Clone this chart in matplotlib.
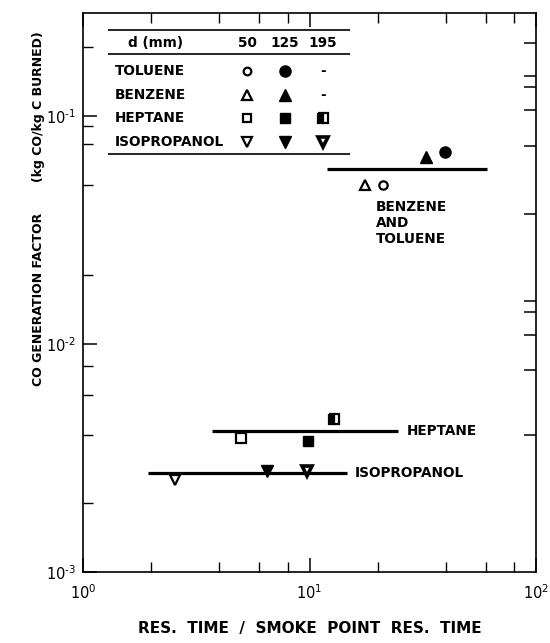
import matplotlib
matplotlib.use("Agg")
import matplotlib.pyplot as plt
from matplotlib.ticker import FixedLocator, FixedFormatter, NullFormatter

plt.rcParams['font.family'] = ['DejaVu Sans']

# Data (x: res. time ratio, y: kg CO / kg C)
d_mm = ["50", "125", "195"]
fuels = ["TOLUENE", "BENZENE", "HEPTANE", "ISOPROPANOL"]

toluene_x = [21.1, 39.6]
toluene_y = [0.050, 0.0695]
benzene_x = [17.6, 32.7]
benzene_y = [0.050, 0.066]
heptane_x = [5.0, 9.85, 12.8]
heptane_y = [0.00387, 0.00376, 0.00469]
isoprop_x = [2.55, 6.5, 9.75]
isoprop_y = [0.00253, 0.00277, 0.00277]

# Mean lines
bt_line_x = [11.9, 60.8]
bt_line_y = [0.0586, 0.0586]
hep_line_x = [3.7, 24.6]
hep_line_y = [0.00415, 0.00415]
iso_line_x = [1.94, 14.6]
iso_line_y = [0.00272, 0.00272]

W, H = 550, 643
fig = plt.figure(figsize=(W / 100, H / 100), dpi=100)
ax = fig.add_axes([83 / W, 1 - 572 / H, (536 - 83) / W, (572 - 13) / H])
ax.set_xscale('log')
ax.set_yscale('log')
ax.set_xlim(1, 100)
ax.set_ylim(1e-3, 0.283)

for s in ax.spines.values():
    s.set_linewidth(1.2)

# ticks
ax.xaxis.set_major_locator(FixedLocator([1, 10, 100]))
ax.xaxis.set_major_formatter(FixedFormatter([r'$\mathregular{10^0}$', r'$\mathregular{10^1}$', r'$\mathregular{10^2}$']))
ax.xaxis.set_minor_locator(FixedLocator([2, 4, 6, 8, 20, 40, 60, 80]))
ax.xaxis.set_minor_formatter(NullFormatter())
ax.yaxis.set_major_locator(FixedLocator([1e-3, 1e-2, 1e-1]))
ax.yaxis.set_major_formatter(FixedFormatter([r'$\mathregular{10^{\text{-}3}}$', r'$\mathregular{10^{\text{-}2}}$',
                                             r'$\mathregular{10^{\text{-}1}}$']))
ax.yaxis.set_minor_locator(FixedLocator([0.002, 0.004, 0.006, 0.008, 0.02, 0.05, 0.075, 0.09, 0.2]))
ax.yaxis.set_minor_formatter(NullFormatter())
ax.tick_params(which='both', direction='in', top=True, right=False, labelsize=10.5)
ax.tick_params(which='major', length=10, width=1.1)
ax.tick_params(which='minor', length=7, width=1.0)
ax.tick_params(axis='x', pad=8)
ax.tick_params(axis='y', pad=5)

# right side ticks are spaced differently on the original
ax2 = ax.twinx()
ax2.set_yscale('log')
ax2.set_ylim(ax.get_ylim())
ax2.yaxis.set_major_locator(FixedLocator([0.004, 0.0077, 0.011, 0.0138, 0.0155, 0.037, 0.074, 0.106, 0.134, 0.15, 0.209]))
ax2.yaxis.set_minor_locator(FixedLocator([]))
ax2.tick_params(direction='in', length=9, width=1.1, labelright=False)
for s in ax2.spines.values():
    s.set_visible(False)

# mean lines
for lx, ly in [(bt_line_x, bt_line_y), (hep_line_x, hep_line_y), (iso_line_x, iso_line_y)]:
    ax.plot(lx, ly, color='black', lw=2.3, solid_capstyle='butt')

open_kw = dict(color='black', mfc='white', mec='black', mew=1.6, ls='none')
fill_kw = dict(color='black', mfc='black', mec='black', ls='none')

# toluene
ax.plot(toluene_x[0], toluene_y[0], 'o', ms=6, **open_kw)
ax.plot(toluene_x[1], toluene_y[1], 'o', ms=8, **fill_kw)
# benzene
ax.plot(benzene_x[0], benzene_y[0], '^', ms=7, **open_kw)
ax.plot(benzene_x[1], benzene_y[1], '^', ms=8, **fill_kw)
# heptane
ax.plot(heptane_x[0], heptane_y[0], 's', ms=6.5, **open_kw)
ax.plot(heptane_x[1], heptane_y[1], 's', ms=7, **fill_kw)
ax.plot(heptane_x[2], heptane_y[2], 's', ms=6.5, fillstyle='left', color='black', mfc='black',
        mfcalt='white', mec='black', mew=1.6, ls='none')
# isopropanol
ax.plot(isoprop_x[0], isoprop_y[0], 'v', ms=7, **open_kw)
ax.plot(isoprop_x[1], isoprop_y[1], 'v', ms=8, **fill_kw)
ax.plot(isoprop_x[2], isoprop_y[2], 'v', ms=7.5, color='black', mfc='white', mec='black', mew=2.6, ls='none')

txt = dict(fontsize=9.8, fontweight='bold', color='black')
ax.text(bt_line_x[0] * 1.65, 0.043, "BENZENE\nAND\nTOLUENE", ha='left', va='top', linespacing=1.2, **txt)
ax.text(hep_line_x[1] * 1.09, hep_line_y[0], "HEPTANE", ha='left', va='center', **txt)
ax.text(iso_line_x[1] * 1.08, iso_line_y[0], "ISOPROPANOL", ha='left', va='center', **txt)

ax.set_xlabel("RES.  TIME  /  SMOKE  POINT  RES.  TIME", fontsize=11, fontweight='bold', labelpad=14)
fig.text(39 / W, 1 - 209 / H, "CO GENERATION FACTOR       (kg CO/kg C BURNED)",
         rotation=90, ha='center', va='center', fontsize=9, fontweight='bold')

# legend table, in its own axes using pixel-like coordinates
lg = fig.add_axes([108 / W, 1 - 156 / H, (350 - 108) / W, (156 - 28) / H])
lg.set_xlim(108, 350)
lg.set_ylim(156, 28)
lg.axis('off')
lg.plot([108, 350], [30, 30], color='black', lw=1.2)
lg.plot([108, 350], [54, 54], color='black', lw=1.2)
lg.plot([108, 350], [154, 154], color='black', lw=1.2)
col_x = [247, 285, 323]
row_y = [71, 95, 118, 142]
lg.text(115 + 40, 43, "d (mm)", ha='center', va='center', **txt)
for cx, d in zip(col_x, d_mm):
    lg.text(cx, 43, d, ha='center', va='center', **txt)
for ry, f in zip(row_y, fuels):
    lg.text(115, ry, f, ha='left', va='center', **txt)

lg.plot(col_x[0], row_y[0], 'o', ms=5.5, **open_kw)
lg.plot(col_x[1], row_y[0], 'o', ms=8, **fill_kw)
lg.text(col_x[2], row_y[0], "-", ha='center', va='center', **txt)
lg.plot(col_x[0], row_y[1], '^', ms=7, **open_kw)
lg.plot(col_x[1], row_y[1], '^', ms=8, **fill_kw)
lg.text(col_x[2], row_y[1], "-", ha='center', va='center', **txt)
lg.plot(col_x[0], row_y[2], 's', ms=6, **open_kw)
lg.plot(col_x[1], row_y[2], 's', ms=7, **fill_kw)
lg.plot(col_x[2], row_y[2], 's', ms=6.5, fillstyle='left', color='black', mfc='black',
        mfcalt='white', mec='black', mew=1.6, ls='none')
lg.plot(col_x[0], row_y[3], 'v', ms=7, **open_kw)
lg.plot(col_x[1], row_y[3], 'v', ms=8, **fill_kw)
lg.plot(col_x[2], row_y[3], 'v', ms=7.5, color='black', mfc='white', mec='black', mew=2.6, ls='none')

fig.savefig("out.png", dpi=100)
